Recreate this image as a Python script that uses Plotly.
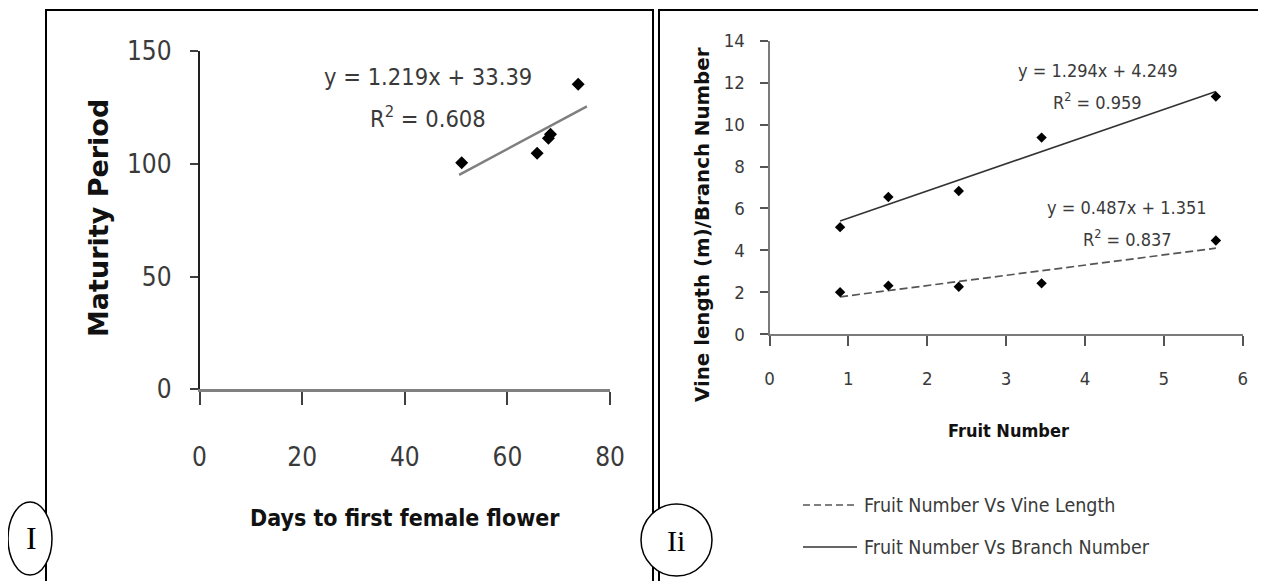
import plotly.graph_objects as go

W, H = 1266, 581
OFF = 8  # page body margin in the browser

# ---------------- Panel I data ----------------
days_to_female_flower = [51.1, 65.8, 68.0, 68.4, 73.8]
maturity_period = [100.5, 104.7, 111.3, 113.1, 135.3]
fit1_slope, fit1_intercept, fit1_r2 = 1.219, 33.39, 0.608
fit1_x_span = [50.6, 75.5]
x1_ticks = [0, 20, 40, 60, 80]
y1_ticks = [0, 50, 100, 150]

# ---------------- Panel Ii data ----------------
fruit_number = [0.895, 1.507, 2.40, 3.45, 5.66]
branch_number = [5.11, 6.55, 6.83, 9.38, 11.34]
vine_length = [2.01, 2.32, 2.27, 2.43, 4.47]
branch_slope, branch_intercept, branch_r2 = 1.294, 4.249, 0.959
vine_slope, vine_intercept, vine_r2 = 0.487, 1.351, 0.837
x2_ticks = [0, 1, 2, 3, 4, 5, 6]
y2_ticks = [0, 2, 4, 6, 8, 10, 12, 14]

NARROW = "DejaVu Sans Condensed, Roboto Condensed, Liberation Sans Narrow, Liberation Sans, sans-serif"
WIDE_BOLD = "DejaVu Sans, Verdana, sans-serif"
SERIF = "Liberation Serif, Times New Roman, serif"
TXT = "#3a3a3a"
DASH = "8px,4px"


def px(x):
    return (x - OFF) / W


def py(y):
    return 1 - (y - OFF) / H


fig = go.Figure()

# Panel I
fig.add_trace(go.Scatter(
    x=days_to_female_flower, y=maturity_period, mode="markers",
    marker=dict(symbol="diamond", size=10, color="black"),
    xaxis="x", yaxis="y", showlegend=False))
fit1_y = [fit1_slope * v + fit1_intercept for v in fit1_x_span]
fig.add_trace(go.Scatter(
    x=fit1_x_span, y=fit1_y, mode="lines",
    line=dict(color="#7f7f7f", width=2.5),
    xaxis="x", yaxis="y", showlegend=False))

# Panel Ii
fx = [min(fruit_number), max(fruit_number)]
fig.add_trace(go.Scatter(
    x=fx, y=[vine_slope * v + vine_intercept for v in fx], mode="lines",
    line=dict(color="#555555", width=1.7, dash=DASH),
    xaxis="x2", yaxis="y2", showlegend=False, name="Fruit Number Vs Vine Length"))
fig.add_trace(go.Scatter(
    x=fx, y=[branch_slope * v + branch_intercept for v in fx], mode="lines",
    line=dict(color="#333333", width=1.6),
    xaxis="x2", yaxis="y2", showlegend=False, name="Fruit Number Vs Branch Number"))
fig.add_trace(go.Scatter(
    x=fruit_number, y=branch_number, mode="markers",
    marker=dict(symbol="diamond", size=8, color="black"),
    xaxis="x2", yaxis="y2", showlegend=False))
fig.add_trace(go.Scatter(
    x=fruit_number, y=vine_length, mode="markers",
    marker=dict(symbol="diamond", size=8, color="black"),
    xaxis="x2", yaxis="y2", showlegend=False))

common = dict(showgrid=False, zeroline=False, showline=True, ticks="outside",
              fixedrange=True, automargin=False)

fig.update_layout(
    width=W, height=H,
    margin=dict(l=0, r=0, t=0, b=0, pad=0, autoexpand=False),
    paper_bgcolor="white", plot_bgcolor="white",
    xaxis=dict(domain=[px(199.5), px(610)], range=[0, 80], tickvals=x1_ticks,
               linecolor="#808080", linewidth=2.5, ticklen=13, tickwidth=1.5,
               tickcolor="#404040", anchor="y", ticklabelstandoff=30,
               tickfont=dict(family=NARROW, size=26, color=TXT), **common),
    yaxis=dict(domain=[py(389.3), py(51)], range=[0, 150], tickvals=y1_ticks,
               linecolor="#202020", linewidth=1.5, ticklen=8, tickwidth=1.5,
               tickcolor="#404040", anchor="x", ticklabelstandoff=13,
               tickfont=dict(family=NARROW, size=26, color=TXT), **common),
    xaxis2=dict(domain=[px(769.5), px(1242.7)], range=[0, 6], tickvals=x2_ticks,
                linecolor="#7a7a7a", linewidth=1.8, ticklen=10, tickwidth=1.5,
                tickcolor="#555555", anchor="y2", ticklabelstandoff=17,
                tickfont=dict(family=NARROW, size=18.5, color=TXT), **common),
    yaxis2=dict(domain=[py(334.3), py(40.7)], range=[0, 14], tickvals=y2_ticks,
                linecolor="#7a7a7a", linewidth=1.8, ticklen=8, tickwidth=1.5,
                tickcolor="#555555", anchor="x2", ticklabelstandoff=11,
                tickfont=dict(family=NARROW, size=18.5, color=TXT), **common),
)

ann = []


def add_text(text, x, y, size, family=NARROW, color=TXT, bold=False, angle=0,
             xanchor="center"):
    t = f"<b>{text}</b>" if bold else text
    ann.append(dict(text=t, x=px(x), y=py(y), xref="paper", yref="paper",
                    showarrow=False, xanchor=xanchor, yanchor="middle",
                    textangle=angle, font=dict(family=family, size=size, color=color)))


# Panel I texts
add_text(f"y = {fit1_slope}x + {fit1_intercept}", 428, 77, 23.5)
add_text(f"R<sup>2</sup> = {fit1_r2}", 428, 117, 23.5)
add_text("Maturity Period", 98, 218, 27, family=WIDE_BOLD, color="#111111", bold=True, angle=-90)
add_text("Days to first female flower", 405, 518, 23, color="#111111", bold=True)
add_text("I", 31, 538, 32, family=SERIF, color="black")

# Panel Ii texts
add_text(f"y = {branch_slope}x + {branch_intercept}", 1098, 70, 18)
add_text(f"R<sup>2</sup> = {branch_r2}", 1097, 101, 18)
add_text(f"y = {vine_slope}x + {vine_intercept}", 1127, 207, 18)
add_text(f"R<sup>2</sup> = {vine_r2}", 1127, 238, 18)
add_text("Vine length (m)/Branch Number", 702, 225, 19.8, family=WIDE_BOLD, color="#111111", bold=True, angle=-90)
add_text("Fruit Number", 1008, 430, 18, color="#111111", bold=True)
add_text("Fruit Number Vs Vine Length", 862, 505, 19.5, xanchor="left")
add_text("Fruit Number Vs Branch Number", 862, 547, 19.5, xanchor="left")
add_text("Ii", 676, 540, 30, family=SERIF, color="black")

fig.update_layout(annotations=ann)

shapes = [
    # panel frames
    dict(type="rect", xref="paper", yref="paper", x0=px(46), x1=px(653), y0=py(600), y1=py(10),
         line=dict(color="black", width=2)),
    dict(type="rect", xref="paper", yref="paper", x0=px(659), x1=px(1285), y0=py(600), y1=py(10),
         line=dict(color="black", width=2)),
    # legend glyphs
    dict(type="line", xref="paper", yref="paper", x0=px(803), x1=px(857), y0=py(505), y1=py(505),
         line=dict(color="#555555", width=1.7, dash="7px,4px")),
    dict(type="line", xref="paper", yref="paper", x0=px(803), x1=px(857), y0=py(547), y1=py(547),
         line=dict(color="#333333", width=1.6)),
    # panel label ellipses
    dict(type="circle", xref="paper", yref="paper", x0=px(8), x1=px(52), y0=py(575), y1=py(502),
         line=dict(color="black", width=1.5), fillcolor="white", layer="above"),
    dict(type="circle", xref="paper", yref="paper", x0=px(641), x1=px(712), y0=py(576), y1=py(504),
         line=dict(color="black", width=1.5), fillcolor="white", layer="above"),
]
fig.update_layout(shapes=shapes)

fig.write_html("out.html")
